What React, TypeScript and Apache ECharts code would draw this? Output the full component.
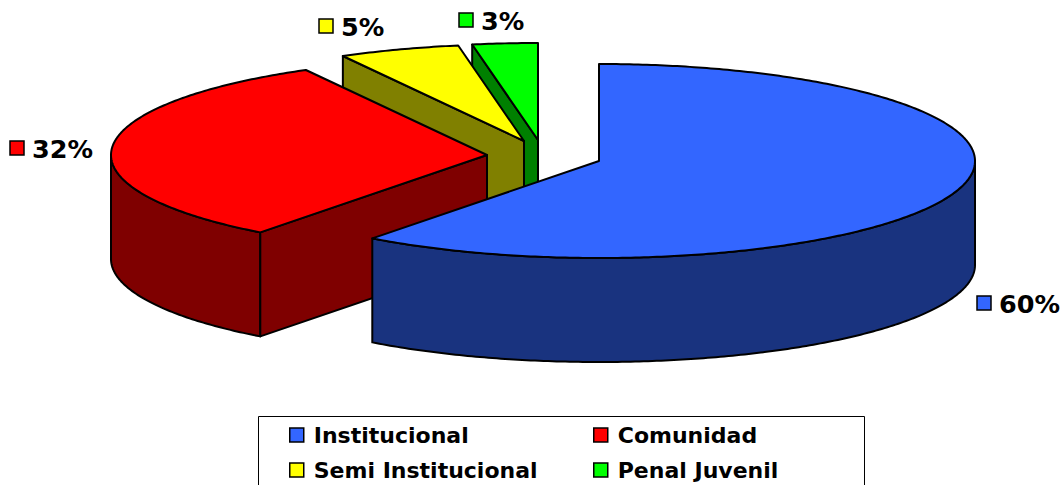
import React, { useEffect, useRef } from "react";
import * as echarts from "echarts";

const categories = ["Institucional", "Comunidad", "Semi Institucional", "Penal Juvenil"];
const values = [60.3, 31.7, 5.2, 2.8];
const percentLabels = ["60%", "32%", "5%", "3%"];
const topColors = ["#3366FF", "#FF0000", "#FFFF00", "#00FF00"];
const wallColors = ["#19337F", "#7F0000", "#808000", "#008000"];
const apexes = [[599, 161], [487, 155], [524, 141], [538, 140]];
const labelAnchors = [[977, 296], [10, 141], [319, 19], [459, 13]];

const RX = 376;
const RY = 97;
const DEPTH = 104;
const FONT = '"DejaVu Sans", Verdana, sans-serif';
const total = values.reduce((a, b) => a + b, 0);

function startAngle(i: number) {
  let s = 0;
  for (let k = 0; k < i; k++) s += values[k];
  return (s / total) * 360;
}

function point(i: number, deg: number, dy = 0) {
  const r = (deg * Math.PI) / 180;
  return [apexes[i][0] + RX * Math.sin(r), apexes[i][1] - RY * Math.cos(r) + dy];
}

function arc(i: number, a: number, b: number, dy = 0) {
  const n = Math.max(2, Math.ceil(Math.abs(b - a) * 1.5));
  const pts: number[][] = [];
  for (let k = 0; k <= n; k++) pts.push(point(i, a + ((b - a) * k) / n, dy));
  return pts;
}

function renderSlice(i: number) {
  return (_params: any, api: any) => {
    const value = api.value(0);
    const a = startAngle(i);
    const b = a + (value / total) * 360;
    const stroke = { stroke: "#000", lineWidth: 2, lineJoin: "round" };
    const children: any[] = [];
    const wallA = Math.max(a, 90);
    const wallB = Math.min(b, 270);
    if (wallB > wallA) {
      children.push({
        type: "polygon",
        shape: { points: [...arc(i, wallA, wallB), ...arc(i, wallB, wallA, DEPTH)] },
        style: { fill: wallColors[i], ...stroke },
      });
    }
    if (Math.sin((a * Math.PI) / 180) < -1e-6) {
      const p = point(i, a);
      const ax = apexes[i];
      children.push({
        type: "polygon",
        shape: { points: [ax, p, [p[0], p[1] + DEPTH], [ax[0], ax[1] + DEPTH]] },
        style: { fill: wallColors[i], ...stroke },
      });
    }
    children.push({
      type: "polygon",
      shape: { points: [apexes[i], ...arc(i, a, b)] },
      style: { fill: topColors[i], ...stroke },
    });
    const [lx, ly] = labelAnchors[i];
    children.push({
      type: "rect",
      shape: { x: lx, y: ly, width: 14, height: 14 },
      style: { fill: topColors[i], stroke: "#000", lineWidth: 1.5 },
    });
    children.push({
      type: "text",
      style: {
        x: lx + 22,
        y: ly + 8,
        text: percentLabels[i],
        fill: "#000",
        font: `bold 25.5px ${FONT}`,
        textAlign: "left",
        textVerticalAlign: "middle",
      },
    });
    return { type: "group", children };
  };
}

export default function App() {
  const ref = useRef<HTMLDivElement>(null);
  useEffect(() => {
    document.body.style.margin = "0";
    const chart = echarts.init(ref.current!, null, { renderer: "svg" });
    const legendBase = {
      orient: "vertical",
      icon: "rect",
      itemWidth: 14,
      itemHeight: 14,
      itemGap: 13,
      padding: 0,
      selectedMode: false,
      itemStyle: { borderColor: "#000", borderWidth: 1.5 },
      textStyle: { color: "#000", fontFamily: FONT, fontWeight: "bold", fontSize: 22, padding: [0, 0, 0, 5] },
    };
    chart.setOption({
      animation: false,
      backgroundColor: "#fff",
      legend: [
        { ...legendBase, left: 289, top: 424, data: [categories[0], categories[2]] },
        { ...legendBase, left: 593, top: 424, data: [categories[1], categories[3]] },
      ],
      graphic: [
        {
          type: "rect",
          shape: { x: 258.5, y: 416.5, width: 606, height: 100 },
          style: { fill: "none", stroke: "#000", lineWidth: 1 },
        },
      ],
      series: [3, 2, 1, 0].map((i) => ({
        type: "custom",
        name: categories[i],
        coordinateSystem: "none",
        silent: true,
        itemStyle: { color: topColors[i] },
        data: [[values[i]]],
        renderItem: renderSlice(i),
      })),
    });
    return () => chart.dispose();
  }, []);
  return <div ref={ref} style={{ width: 1063, height: 485 }} />;
}
